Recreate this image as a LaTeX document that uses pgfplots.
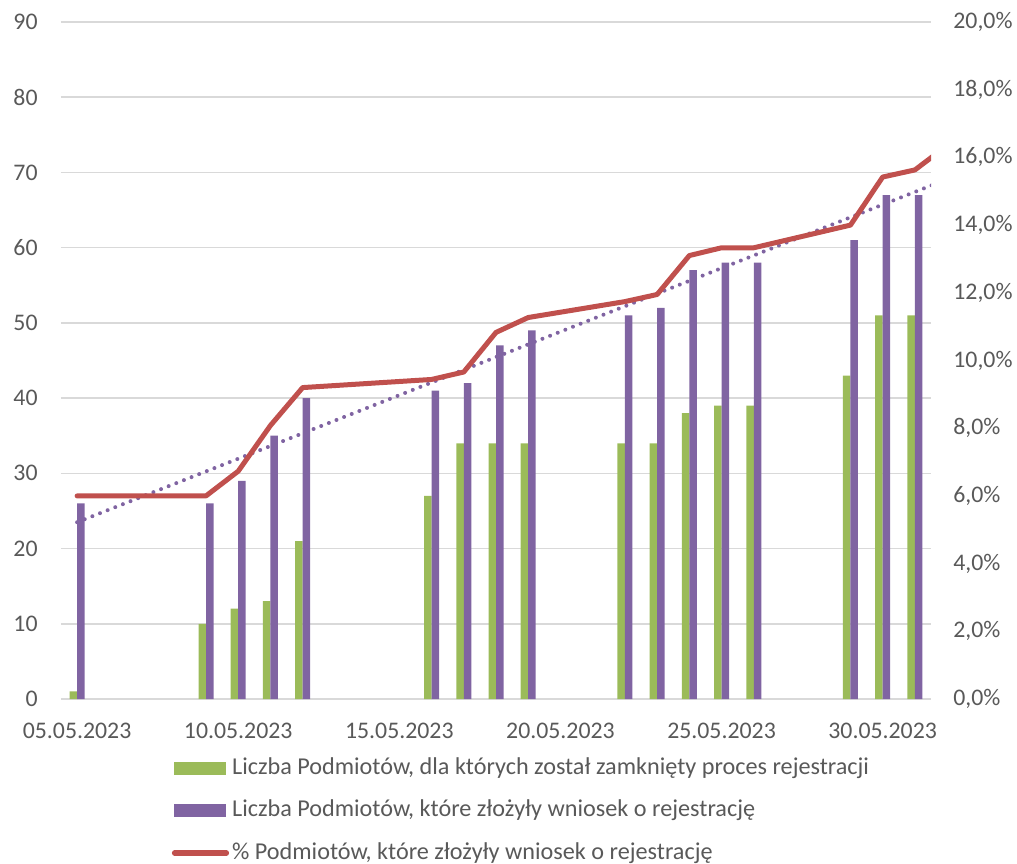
\documentclass[border=0pt]{standalone}
\usepackage{pgfplots}
\pgfplotsset{compat=1.18}
\usepackage{fontspec}
\setmainfont{Carlito}
\definecolor{mygreen}{HTML}{9BBB59}
\definecolor{mypurple}{HTML}{8064A2}
\definecolor{myred}{HTML}{C0504D}
\definecolor{gridgray}{HTML}{D9D9D9}
\definecolor{textgray}{HTML}{595959}
\begin{document}
\begin{tikzpicture}
\path[use as bounding box] (0,0) rectangle (508.5pt,431.5pt);
\pgfplotsset{
  common/.style={scale only axis, width=435pt, height=338.5pt,
    xmin=4.5, xmax=31.5, at={(30.5pt,82pt)}, anchor=south west,
    major tick length=0pt,
    tick label style={font=\fontsize{11.9}{14}\selectfont, text=textgray},
    /pgf/number format/assume math mode=true}
}
\begin{axis}[common,
  ymin=0, ymax=90, ytick={0,10,...,90},
  xtick={5,10,15,20,25,30},
  xticklabels={05.05.2023,10.05.2023,15.05.2023,20.05.2023,25.05.2023,30.05.2023},
  axis x line*=bottom, axis y line*=left,
  y axis line style={draw=none},
  x axis line style={draw=gridgray, line width=0.8pt},
  ymajorgrids, grid style={gridgray, line width=0.75pt},
  yticklabel style={inner xsep=0pt, xshift=-11.5pt},
  xticklabel style={inner ysep=0pt, yshift=-12pt},
  legend style={at={(0.127,-0.084)}, anchor=north west, draw=none, fill=none,
    inner sep=0pt, row sep=9.2pt,
    font=\fontsize{12.1}{14}\selectfont, text=textgray,
    nodes={text height=9pt, text depth=3pt, inner ysep=0pt, inner xsep=1.5pt}},
  legend cell align=left,
]
\addplot[ybar, bar width=3.75pt, bar shift=-1.875pt, fill=mygreen, draw=none,
  legend image code/.code={\fill[mygreen] (0pt,-3.2pt) rectangle (26pt,3.2pt);}]
  coordinates {(5,1)(9,10)(10,12)(11,13)(12,21)(16,27)(17,34)(18,34)(19,34)(22,34)(23,34)(24,38)(25,39)(26,39)(29,43)(30,51)(31,51)};
\addlegendentry{Liczba Podmiotów, dla których został zamknięty proces rejestracji}
\addplot[ybar, bar width=3.75pt, bar shift=1.875pt, fill=mypurple, draw=none,
  legend image code/.code={\fill[mypurple] (0pt,-3.2pt) rectangle (26pt,3.2pt);}]
  coordinates {(5,26)(9,26)(10,29)(11,35)(12,40)(16,41)(17,42)(18,47)(19,49)(22,51)(23,52)(24,57)(25,58)(26,58)(29,61)(30,67)(31,67)};
\addlegendentry{Liczba Podmiotów, które złożyły wniosek o rejestrację}
\addlegendimage{legend image code/.code={\draw[myred, line width=2.6pt, line cap=round] (0.3pt,0pt) -- (26.3pt,0pt);}}
\addlegendentry{\% Podmiotów, które złożyły wniosek o rejestrację}
\addplot[mypurple, line width=2pt, line cap=round, dash pattern=on 0pt off 4.1pt, forget plot]
  coordinates {(5,23.5)(32,69.1)};
\end{axis}
\begin{axis}[common,
  ymin=0, ymax=20, ytick={0,2,...,20},
  axis y line*=right, axis x line=none,
  y axis line style={draw=none},
  yticklabel={\pgfmathprintnumber[fixed,fixed zerofill,precision=1,use comma]{\tick}\%},
  yticklabel style={inner xsep=0pt, xshift=11pt},
]
\addplot[myred, line width=2.5pt, line cap=round, line join=round]
  coordinates {(5,6.0)(9,6.0)(10,6.73)(11,8.08)(12,9.2)(16,9.44)(17,9.66)(18,10.83)(19,11.27)(22,11.74)(23,11.95)(24,13.1)(25,13.33)(26,13.33)(29,14.0)(30,15.42)(31,15.63)(32,16.35)};
\end{axis}
\end{tikzpicture}
\end{document}
